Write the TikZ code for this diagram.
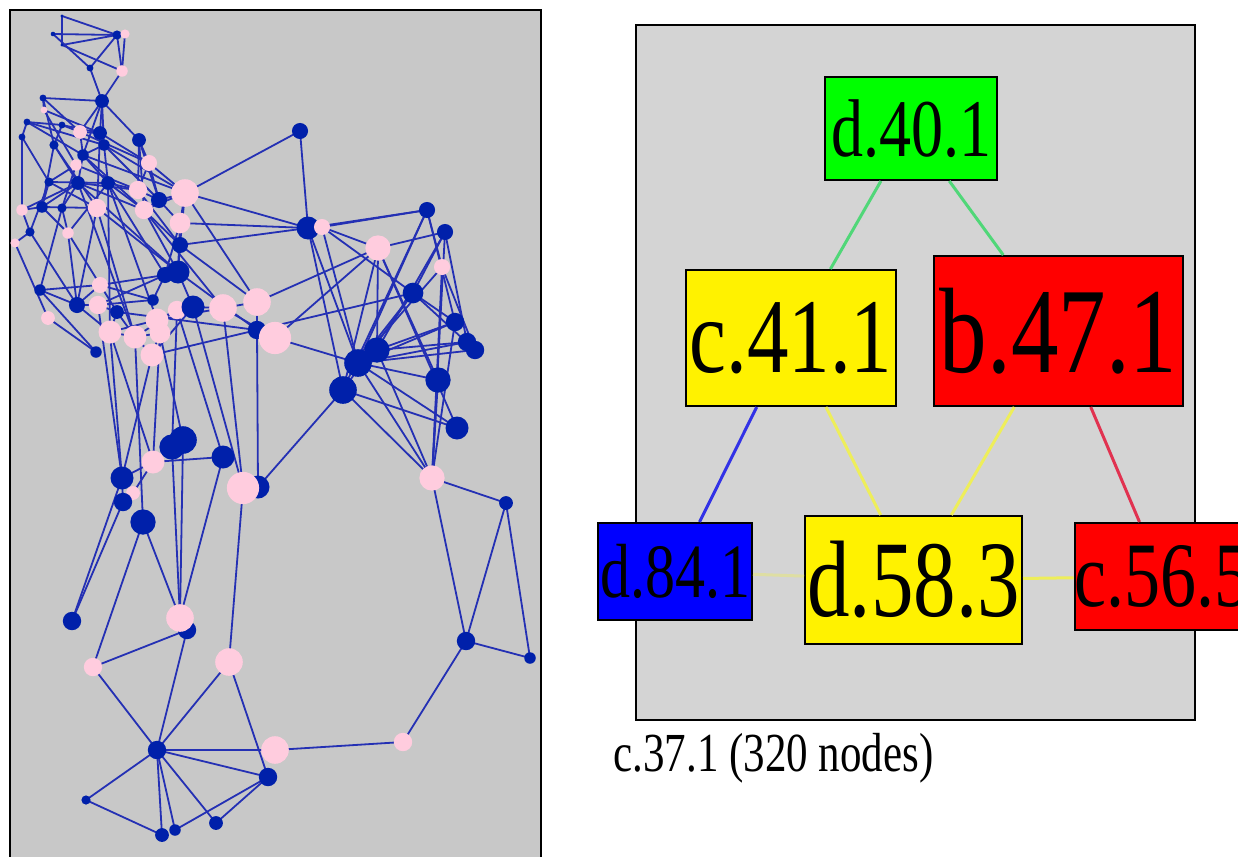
\documentclass[tikz,border=0pt]{standalone}
\usepackage{fontspec}
\setmainfont{Liberation Serif}
\usepackage{graphicx}

\definecolor{panelgray}{RGB}{200,200,200}
\definecolor{boxgray}{RGB}{212,212,212}
\definecolor{netblue}{RGB}{0,32,170}
\definecolor{linkblue}{RGB}{36,48,180}
\definecolor{netpink}{RGB}{255,204,222}
\definecolor{mint}{RGB}{80,215,120}
\definecolor{paleyellow}{RGB}{238,238,90}
\definecolor{rose}{RGB}{225,50,80}
\definecolor{edgeblue}{RGB}{50,50,230}

\tikzset{
  link/.style={linkblue,line width=1.8pt},
  cluster/.style={draw=black,line width=2pt,inner sep=0pt},
  tie/.style={line width=3pt},
}
\newcommand{\lab}[2]{\fontsize{#1}{#1}\selectfont\scalebox{1}[1.28]{#2}}

% vertices of the network: id/x/y/radius/colour
\def\netnodes{1/62/16/1.5/netblue,2/53/34/2/netblue,3/117/35/4/netblue,4/125/34/4/netpink,
5/90/68/3/netblue,6/122/71/5/netpink,7/62/45/1.5/netblue,8/102/101/6/netblue,
9/43/98/3/netblue,10/27/122/3/netblue,11/22/137/3/netblue,12/44/110/3/netpink,
13/62/125/3/netblue,14/80/132/6/netpink,15/100/133/6/netblue,16/104/145/5/netblue,
17/139/140/6/netblue,18/54/145/4/netblue,19/83/155/5/netblue,20/76/165/5/netpink,
21/149/163/7/netpink,22/185/193/12/netpink,23/138/190/8/netpink,24/159/200/7/netblue,
25/97/208/8/netpink,26/144/210/8/netpink,27/180/223/9/netpink,28/49/182/4/netblue,
29/78/183/6/netblue,30/108/183/6/netblue,31/42/207/5/netblue,32/62/208/4/netblue,
33/22/210/5/netpink,34/30/232/4/netblue,35/15/243/4/netpink,36/68/233/5/netpink,
37/180/245/7/netblue,38/178/272/10/netblue,39/165/275/7/netblue,40/100/285/7/netpink,
41/40/290/5/netblue,42/77/305/7/netblue,43/98/305/8/netpink,44/117/312/6/netblue,
45/48/318/6/netpink,46/110/332/10/netpink,47/135/337/10/netpink,48/157/320/10/netpink,
49/160/333/9/netpink,50/152/355/10/netpink,51/177/310/8/netpink,52/193/307/10/netblue,
53/223/308/12/netpink,54/257/302/12/netpink,55/257/330/8/netblue,56/275/338/14/netpink,
57/96/352/5/netblue,58/153/300/5/netblue,
60/183/440/12/netblue,61/172/447/11/netblue,62/153/462/10/netpink,63/223/457/10/netblue,
64/122/478/10/netblue,65/133/493/6/netpink,66/123/502/8/netblue,67/143/522/11/netblue,
68/258/487/10/netblue,69/243/488/14/netpink,
70/300/131/7/netblue,71/308/228/10/netblue,72/322/227/7/netpink,73/427/210/7/netblue,
74/445/232/7/netblue,75/378/248/11/netpink,76/442/267/7/netpink,77/413/293/9/netblue,
78/455/322/8/netblue,79/467/342/8/netblue,80/475/350/8/netblue,81/377/350/11/netblue,
82/358/363/12/netblue,83/343/390/12/netblue,84/438/380/11/netblue,85/457/428/10/netblue,
86/432/478/11/netpink,87/506/503/6/netblue,88/466/641/8/netblue,89/530/658/5/netblue,
90/72/621/8/netblue,91/187/630/8/netblue,92/180/618/12/netpink,93/93/667/8/netpink,
94/229/662/12/netpink,95/157/750/8/netblue,96/275/750/12/netpink,97/268/777/8/netblue,
98/86/800/4/netblue,99/162/835/6/netblue,100/175/830/5/netblue,101/216/823/6/netblue,
102/403/742/8/netpink}

\def\netlinks{1/3,1/7,2/3,2/5,7/3,7/6,3/6,4/6,5/3,5/8,6/8,
8/9,8/15,8/17,8/14,8/16,8/19,
9/12,9/18,9/14,10/13,10/11,10/19,10/16,11/33,11/28,12/15,12/20,13/15,13/14,13/18,
14/15,14/19,14/21,15/16,15/21,15/25,16/30,16/22,16/19,16/24,17/21,17/23,17/26,
18/29,18/31,18/25,19/29,19/30,19/22,19/26,20/28,20/32,20/23,21/22,21/24,21/23,
22/24,22/26,22/27,22/54,22/37,23/24,23/29,23/30,23/37,24/27,24/26,24/17,
25/28,25/38,25/42,25/31,25/47,26/29,26/30,26/37,26/38,26/53,27/37,27/38,27/39,
28/30,28/31,28/34,29/31,29/33,29/32,29/38,29/47,30/36,30/39,30/48,30/46,
31/33,31/36,32/36,32/41,33/34,34/35,34/42,35/45,36/44,36/42,37/38,37/54,
38/39,38/52,38/55,39/40,39/43,39/58,40/41,40/42,40/58,41/42,41/57,42/43,42/46,
43/44,43/58,44/46,44/47,44/55,45/57,46/47,46/48,47/49,47/50,47/51,48/49,48/51,
48/53,49/50,50/52,50/55,51/52,52/53,52/69,53/54,53/56,54/55,55/56,
46/64,43/64,46/62,47/67,50/64,48/60,51/61,49/62,51/63,53/69,55/68,62/63,64/62,
61/92,60/92,60/61,63/92,67/93,67/92,64/90,66/90,64/66,65/62,69/94,68/83,
70/22,70/71,71/73,72/73,71/37,71/22,72/75,72/77,71/82,72/82,71/83,75/74,75/83,
75/81,75/84,75/85,73/83,73/82,73/76,73/78,74/77,74/81,74/79,74/86,76/86,76/80,
76/82,77/82,77/78,77/80,77/83,82/79,82/78,82/80,82/84,82/85,82/86,81/78,81/79,
83/86,83/85,81/86,84/86,78/86,56/82,54/75,56/75,55/77,27/71,
93/91,93/95,91/95,94/95,94/97,95/96,95/97,95/98,95/99,95/100,95/101,98/99,
100/97,101/97,96/102,102/88,88/89,88/86,88/87,89/87,86/87}

\begin{document}
\begin{tikzpicture}[x=1pt,y=-1pt]
	\clip (0,0) rectangle (1238,856);
	\fill[white] (0,0) rectangle (1238,856);

	% left panel: the network
	\draw[fill=panelgray,line width=2pt] (10,10) rectangle (541,880);
	\foreach \i/\x/\y/\r/\c in \netnodes
		\coordinate (v\i) at (\x,\y);
	\foreach \a/\b in \netlinks
		\draw[link] (v\a) -- (v\b);
	\foreach \i/\x/\y/\r/\c in \netnodes
		\fill[\c] (v\i) circle[radius=1.15*\r pt];

	% right panel: the clusters
	\draw[fill=boxgray,line width=2pt] (636,25) rectangle (1195,720);
	\node[cluster,fill=green,minimum width=172pt,minimum height=103pt](d401)at(911,128.5) {\lab{64}{d.40.1}};
	\node[cluster,fill=yellow,minimum width=210pt,minimum height=136pt](c411)at(791,338) {\lab{83}{c.41.1}};
	\node[cluster,fill=red,minimum width=249pt,minimum height=150pt](b471)at(1058.5,331) {\lab{95}{b.47.1}};
	\node[cluster,fill=blue,minimum width=154pt,minimum height=97pt](d841)at(675,571.5) {\lab{60}{d.84.1}};
	\node[cluster,fill=yellow,minimum width=217pt,minimum height=128pt](d583)at(913.5,580) {\lab{85}{d.58.3}};
	\node[cluster,fill=red,minimum width=175pt,minimum height=107pt](c565)at(1162.5,576.5) {\lab{72}{c.56.5}};

	\draw[tie,mint](d401) -- (c411);
	\draw[tie,mint](d401) -- (b471);
	\draw[tie,edgeblue](c411) -- (d841);
	\draw[tie,paleyellow](c411) -- (d583);
	\draw[tie,paleyellow](b471) -- (d583);
	\draw[tie,rose](b471) -- (c565);
	\draw[tie,paleyellow](d583) -- (c565);
	\draw[tie,paleyellow!40!boxgray](d841) -- (d583);

	\node[anchor=west](caption)at(610,758) {\lab{43}{c.37.1 (320 nodes)}};
\end{tikzpicture}
\end{document}
